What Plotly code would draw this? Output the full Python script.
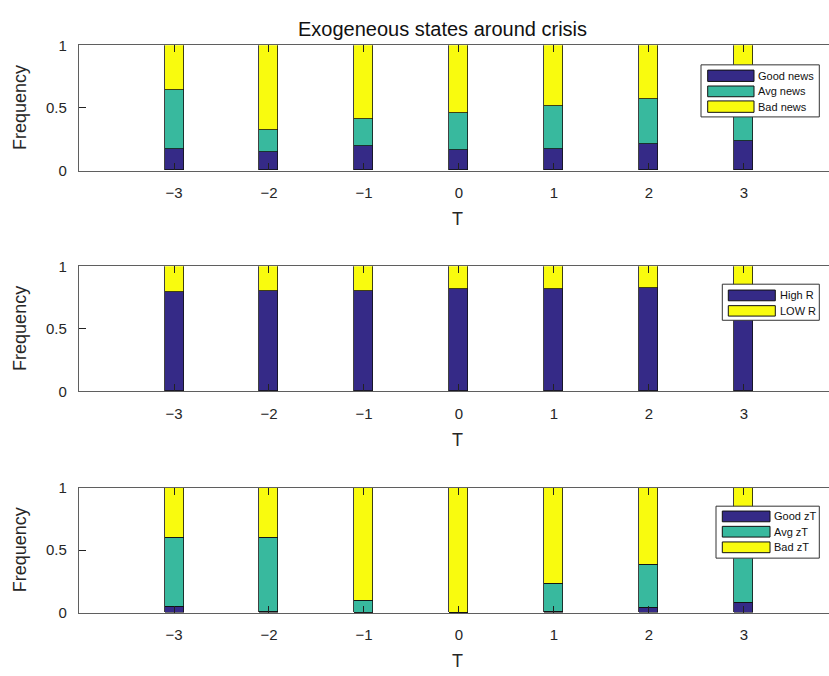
import plotly.graph_objects as go

# ---------------- data ----------------
T_vals = [-3, -2, -1, 0, 1, 2, 3]
T_labels = ["\u22123", "\u22122", "\u22121", "0", "1", "2", "3"]
freq_ticks = [0, 0.5, 1]
freq_labels = ["0", "0.5", "1"]

news_names = ["Good news", "Avg news", "Bad news"]
news_good = [0.166, 0.145, 0.194, 0.163, 0.166, 0.209, 0.230]
news_avg = [0.473, 0.178, 0.212, 0.294, 0.343, 0.360, 0.350]
news_bad = [0.361, 0.677, 0.594, 0.543, 0.491, 0.431, 0.420]

r_names = ["High R", "LOW R"]
r_high = [0.795, 0.803, 0.803, 0.815, 0.815, 0.821, 0.820]
r_low = [0.205, 0.197, 0.197, 0.185, 0.185, 0.179, 0.180]

z_names = ["Good zT", "Avg zT", "Bad zT"]
z_good = [0.045, 0.008, 0.0, 0.0, 0.005, 0.040, 0.080]
z_avg = [0.557, 0.594, 0.094, 0.0, 0.227, 0.343, 0.470]
z_bad = [0.398, 0.398, 0.906, 1.0, 0.768, 0.617, 0.450]

title_text = "Exogeneous states around crisis"
x_title = "T"
y_title = "Frequency"

# ---------------- style ----------------
W, H = 829, 676
C_GOOD = "#352A87"
C_AVG = "#38B99E"
C_BAD = "#F9FB0E"
FONT = "Liberation Sans, Arial, Helvetica, sans-serif"
TXT = "#262626"
AXC = "#5f5f5f"


def px(x):
    return x / W


def py(y):
    return 1 - y / H


panels = [
    dict(names=news_names, vals=[news_good, news_avg, news_bad], cols=[C_GOOD, C_AVG, C_BAD],
         top=37.3, bot=165.7,
         box=(701, 57.3, 819.3, 110.7), patch_x=(707.7, 754), text_x=756,
         rows=[(62.7, 74.3), (79, 90), (94.3, 106)]),
    dict(names=r_names, vals=[r_high, r_low], cols=[C_GOOD, C_BAD],
         top=264.0, bot=392.3,
         box=(722.3, 282.3, 819.3, 319.3), patch_x=(728.3, 775.3), text_x=778,
         rows=[(288.3, 299.3), (304.3, 315)]),
    dict(names=z_names, vals=[z_good, z_avg, z_bad], cols=[C_GOOD, C_AVG, C_BAD],
         top=491.0, bot=619.3,
         box=(716, 510, 819.3, 563.3), patch_x=(722.3, 770), text_x=772.3,
         rows=[(515, 526), (530.7, 541.7), (546.7, 557.7)]),
]

fig = go.Figure()
shapes = []
annotations = []
layout = {}

for i, p in enumerate(panels):
    k = "" if i == 0 else str(i + 1)
    xa, ya = "x" + k, "y" + k
    for name, v, c in zip(p["names"], p["vals"], p["cols"]):
        fig.add_trace(go.Bar(
            x=T_vals, y=v, name=name, xaxis=xa, yaxis=ya, width=0.2,
            marker=dict(color=c, line=dict(color="#111111", width=0.8)),
            showlegend=False, hoverinfo="skip"))

    layout["xaxis" + k] = dict(
        domain=[px(79), 1.0], range=[-4, 3.895], anchor=ya,
        tickmode="array", tickvals=T_vals, ticktext=T_labels,
        ticks="inside", ticklen=7, tickwidth=1, tickcolor="#222222",
        showline=True, linecolor=AXC, linewidth=1.2, mirror="ticks",
        showgrid=False, zeroline=False,
        tickfont=dict(family=FONT, size=15, color=TXT), ticklabelstandoff=8)
    layout["yaxis" + k] = dict(
        domain=[py(p["bot"]), py(p["top"])], range=[0, 1], anchor=xa,
        tickmode="array", tickvals=freq_ticks, ticktext=freq_labels,
        ticks="inside", ticklen=7, tickwidth=1, tickcolor="#222222",
        showline=True, linecolor=AXC, linewidth=1.2, mirror=False,
        showgrid=False, zeroline=False,
        tickfont=dict(family=FONT, size=15, color=TXT), ticklabelstandoff=8)

    # axis titles
    annotations.append(dict(text=x_title, x=px(457.5), y=py(p["bot"] + 50), xref="paper", yref="paper",
                            xanchor="center", yanchor="middle", showarrow=False,
                            font=dict(family=FONT, size=18, color=TXT)))
    annotations.append(dict(text=y_title, x=px(20), y=py((p["top"] + p["bot"]) / 2), xref="paper", yref="paper",
                            xanchor="center", yanchor="middle", showarrow=False, textangle=-90,
                            font=dict(family=FONT, size=18, color=TXT)))

    # legend box (drawn to match the wide MATLAB legend patches)
    bx0, by0, bx1, by1 = p["box"]
    shapes.append(dict(type="rect", xref="paper", yref="paper", layer="above",
                       x0=px(bx0), x1=px(bx1), y0=py(by1), y1=py(by0),
                       fillcolor="white", line=dict(color="#333333", width=1)))
    for name, c, (r0, r1) in zip(p["names"], p["cols"], p["rows"]):
        shapes.append(dict(type="rect", xref="paper", yref="paper", layer="above",
                           x0=px(p["patch_x"][0]), x1=px(p["patch_x"][1]), y0=py(r1), y1=py(r0),
                           fillcolor=c, line=dict(color="#111111", width=1)))
        annotations.append(dict(text=name, x=px(p["text_x"]), y=py((r0 + r1) / 2), xref="paper", yref="paper",
                                xanchor="left", yanchor="middle", showarrow=False,
                                font=dict(family=FONT, size=11, color="#111111")))

annotations.append(dict(text=title_text, x=px(442), y=py(21), xref="paper", yref="paper",
                        xanchor="center", yanchor="middle", showarrow=False,
                        font=dict(family=FONT, size=20, color="#111111")))

fig.update_layout(
    width=W, height=H, margin=dict(l=0, r=0, t=0, b=0),
    barmode="stack", bargap=0,
    plot_bgcolor="white", paper_bgcolor="white",
    shapes=shapes, annotations=annotations,
    showlegend=False,
    **layout)

post = (
    "document.documentElement.style.margin='0';"
    "document.documentElement.style.overflow='hidden';"
    "document.body.style.margin='0';"
    "document.body.style.overflow='hidden';"
    "var gd=document.getElementById('{plot_id}');"
    "gd.style.position='fixed';gd.style.top='0px';gd.style.left='0px';"
)

fig.write_html("out.html", config={"displayModeBar": False}, post_script=post)
